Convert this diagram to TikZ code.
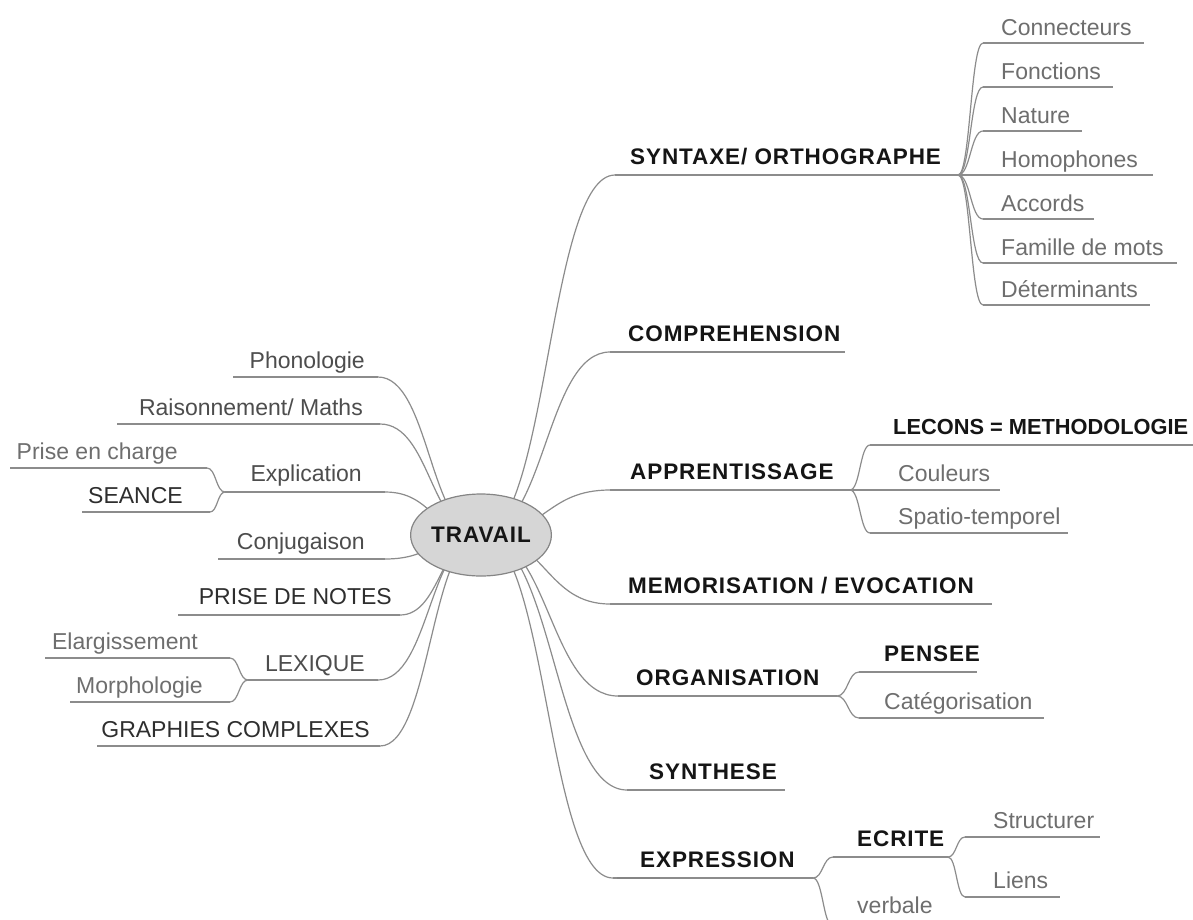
\documentclass[tikz,border=0pt]{standalone}
\usepackage{fontspec}
\setmainfont{Liberation Sans}
\newfontfamily\headfont[LetterSpace=4]{Liberation Sans}
\usetikzlibrary{calc,shapes.geometric}

\definecolor{linegray}{HTML}{8C8C8C}
\definecolor{hubfill}{HTML}{D6D6D6}
\definecolor{hubline}{HTML}{858585}
\definecolor{headblack}{HTML}{151515}
\definecolor{darkgray}{HTML}{2E2E2E}
\definecolor{midgray}{HTML}{4D4D4D}
\definecolor{leafgray}{HTML}{6E6E6E}

\tikzset{
  link/.style={draw=linegray, line width=1.2pt,
    to path={let \p1=(\tikztostart), \p2=(\tikztotarget) in
      .. controls +({(\x2-\x1)/2},0) and +({(\x1-\x2)/2},0) .. (\tikztotarget)}},
  rule/.style={draw=linegray, line width=1.2pt},
  head/.style={font=\headfont\bfseries\fontsize{22.5}{26}\selectfont, text=headblack, inner sep=0pt, anchor=base west},
  leaf/.style={font=\fontsize{23}{27}\selectfont, text=leafgray, inner sep=0pt, anchor=base west},
  lhead/.style={font=\fontsize{23}{27}\selectfont, text=midgray, inner sep=0pt, anchor=base east},
  lleaf/.style={font=\fontsize{23}{27}\selectfont, text=leafgray, inner sep=0pt, anchor=base east},
  hubnode/.style={draw=hubline, fill=hubfill, line width=1.2pt, ellipse, minimum width=137pt, minimum height=82pt, inner sep=0pt,
    font=\headfont\bfseries\fontsize{22.5}{26}\selectfont, text=headblack},
}

\begin{document}
\begin{tikzpicture}[x=1pt,y=-1pt]
\clip (0,0) rectangle (1193,919);
\fill[white] (0,0) rectangle (1193,919);

\coordinate (hub) at (481,535);

% right branches
\draw[rule] (615,175) coordinate (syn-a) -- (958,175) coordinate (syn-b);
\draw[rule] (610,352) coordinate (comp-a) -- (845,352) coordinate (comp-b);
\draw[rule] (610,490) coordinate (appr-a) -- (850,490) coordinate (appr-b);
\draw[rule] (610,604) coordinate (memo-a) -- (992,604) coordinate (memo-b);
\draw[rule] (618,696) coordinate (orga-a) -- (837,696) coordinate (orga-b);
\draw[rule] (627,790) coordinate (synth-a) -- (785,790) coordinate (synth-b);
\draw[rule] (613,878) coordinate (expr-a) -- (813,878) coordinate (expr-b);
\draw[line width=2.2pt, draw=hubline] ([xshift=4]expr-a) -- ([xshift=47]expr-a);

\node[head] (syn) at (630,164) {SYNTAXE/ ORTHOGRAPHE};
\node[head] (comp) at (628,341) {COMPREHENSION};
\node[head] (appr) at (630,479) {APPRENTISSAGE};
\node[head] (memo) at (628,593) {MEMORISATION / EVOCATION};
\node[head] (orga) at (636,685) {ORGANISATION};
\node[head] (synth) at (649,779) {SYNTHESE};
\node[head] (expr) at (640,867) {EXPRESSION};

% syntaxe leaves
\draw[rule] (983,43) coordinate (cnx-a) -- (1144,43) coordinate (cnx-b);
\draw[rule] (983,87) coordinate (fon-a) -- (1113,87) coordinate (fon-b);
\draw[rule] (983,131) coordinate (nat-a) -- (1082,131) coordinate (nat-b);
\draw[rule] (983,175) coordinate (hom-a) -- (1153,175) coordinate (hom-b);
\draw[rule] (983,219) coordinate (acc-a) -- (1094,219) coordinate (acc-b);
\draw[rule] (983,263) coordinate (fam-a) -- (1177,263) coordinate (fam-b);
\draw[rule] (983,305) coordinate (det-a) -- (1150,305) coordinate (det-b);

\node[leaf] (cnx) at (1001,35) {Connecteurs};
\node[leaf] (fon) at (1001,79) {Fonctions};
\node[leaf] (nat) at (1001,123) {Nature};
\node[leaf] (hom) at (1001,167) {Homophones};
\node[leaf] (acc) at (1001,211) {Accords};
\node[leaf] (fam) at (1001,255) {Famille de mots};
\node[leaf] (det) at (1001,297) {Déterminants};

% apprentissage
\draw[rule] (870,445) coordinate (lec-a) -- (1200,445) coordinate (lec-b);
\draw[rule] (870,490) coordinate (cou-a) -- (1000,490) coordinate (cou-b);
\draw[rule] (870,533) coordinate (spa-a) -- (1068,533) coordinate (spa-b);
\node[head, font=\bfseries\fontsize{21.8}{26}\selectfont] (lec) at (893,434) {LECONS = METHODOLOGIE};
\node[leaf] (cou) at (898,481) {Couleurs};
\node[leaf] (spa) at (898,524) {Spatio-temporel};

% organisation
\draw[rule] (859,672) coordinate (pen-a) -- (977,672) coordinate (pen-b);
\draw[rule] (859,718) coordinate (cat-a) -- (1044,718) coordinate (cat-b);
\node[head] (pen) at (884,661) {PENSEE};
\node[leaf] (cat) at (884,709) {Catégorisation};

% expression
\draw[rule] (833,857) coordinate (ecr-a) -- (948,857) coordinate (ecr-b);
\draw[rule] (833,926) coordinate (ver-a) -- (950,926) coordinate (ver-b);
\draw[rule] (965,837) coordinate (str-a) -- (1100,837) coordinate (str-b);
\draw[rule] (965,897) coordinate (lie-a) -- (1060,897) coordinate (lie-b);
\node[head] (ecr) at (857,846) {ECRITE};
\node[leaf] (ver) at (857,913) {verbale};
\node[leaf] (str) at (993,828) {Structurer};
\node[leaf] (lie) at (993,888) {Liens};

% left branches
\draw[rule] (378,377) coordinate (pho-a) -- (233,377) coordinate (pho-b);
\draw[rule] (380,424) coordinate (rai-a) -- (117,424) coordinate (rai-b);
\draw[rule] (385,492) coordinate (exp-a) -- (225,492) coordinate (exp-b);
\draw[rule] (207,468) coordinate (pri-a) -- (10,468) coordinate (pri-b);
\draw[rule] (210,512) coordinate (sea-a) -- (82,512) coordinate (sea-b);
\draw[rule] (385,559) coordinate (conj-a) -- (218,559) coordinate (conj-b);
\draw[rule] (400,615) coordinate (not-a) -- (178,615) coordinate (not-b);
\draw[rule] (378,680) coordinate (lex-a) -- (248,680) coordinate (lex-b);
\draw[rule] (230,658) coordinate (ela-a) -- (45,658) coordinate (ela-b);
\draw[rule] (230,702) coordinate (mor-a) -- (70,702) coordinate (mor-b);
\draw[rule] (380,746) coordinate (gra-a) -- (97,746) coordinate (gra-b);

\node[lhead] (pho) at (365,368) {Phonologie};
\node[lhead] (rai) at (363,415) {Raisonnement/ Maths};
\node[lhead] (exp) at (362,481) {Explication};
\node[lleaf] (pri) at (178,459) {Prise en charge};
\node[lhead, text=darkgray] (sea) at (183,503) {SEANCE};
\node[lhead] (conj) at (365,549) {Conjugaison};
\node[lhead, text=darkgray] (not) at (392,604) {PRISE DE NOTES};
\node[lhead] (lex) at (365,671) {LEXIQUE};
\node[lleaf] (ela) at (198,649) {Elargissement};
\node[lleaf] (mor) at (203,693) {Morphologie};
\node[lhead, text=darkgray] (gra) at (370,737) {GRAPHIES COMPLEXES};

% connectors
\foreach \t in {syn,comp,appr,memo,orga,synth,expr,pho,rai,exp,conj,not,lex,gra}
  \draw[link] (hub) to (\t-a);
\foreach \t in {cnx,fon,nat,hom,acc,fam,det}
  \draw[link] (syn-b) to (\t-a);
\foreach \t in {lec,cou,spa}
  \draw[link] (appr-b) to (\t-a);
\draw[link] (orga-b) to (pen-a);
\draw[link] (orga-b) to (cat-a);
\draw[link] (expr-b) to (ecr-a);
\draw[link] (expr-b) to (ver-a);
\draw[link] (ecr-b) to (str-a);
\draw[link] (ecr-b) to (lie-a);
\draw[link] (exp-b) to (pri-a);
\draw[link] (exp-b) to (sea-a);
\draw[link] (lex-b) to (ela-a);
\draw[link] (lex-b) to (mor-a);

\node[hubnode] (travail) at (hub) {TRAVAIL};
\end{tikzpicture}
\end{document}
